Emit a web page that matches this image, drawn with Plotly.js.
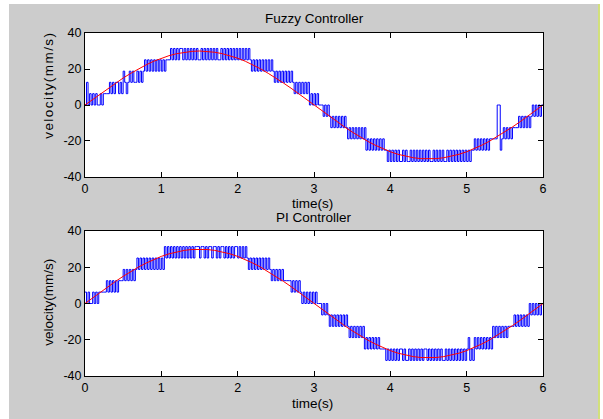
<!DOCTYPE html>
<html>
<head>
<meta charset="utf-8">
<script src="https://cdn.plot.ly/plotly-3.0.1.min.js"></script>
<style>
  html, body { margin: 0; padding: 0; background: #ffffff; width: 603px; height: 419px; overflow: hidden; }
  #plot { position: absolute; left: 9px; top: 4px; width: 589px; height: 415px; }
  #edge { position: absolute; left: 598px; top: 4px; width: 2px; height: 415px; background: #d2e07c; }
  .annotation[data-index="4"] text { letter-spacing: 1.45px; }
</style>
</head>
<body>
<div id="plot"></div>
<div id="edge"></div>
<script>
// sampling interval of the measured velocity (s) and of the reference (s)
const dtMeasured = 0.02;
const dtReference = 0.1;

// reference velocity (red), mm/s, every 0.1 s from 0 to 6 s
const referenceVelocity = [
  0, 3.1, 6.2, 9.3, 12.2, 15, 17.6, 20.1, 22.3, 24.3, 26, 27.4, 28.5, 29.3, 29.8, 30,
  29.8, 29.3, 28.5, 27.4, 26, 24.3, 22.3, 20.1, 17.6, 15, 12.2, 9.3, 6.2, 3.1, 0,
  -3.1, -6.2, -9.3, -12.2, -15, -17.6, -20.1, -22.3, -24.3, -26, -27.4, -28.5, -29.3, -29.8, -30,
  -29.8, -29.3, -28.5, -27.4, -26, -24.3, -22.3, -20.1, -17.6, -15, -12.2, -9.3, -6.2, -3.1, 0
];

// measured velocity, Fuzzy controller (blue), mm/s, every 0.02 s
const fuzzyVelocity = [
  0, 12.6, 0,
  6.3, 0, 6.3, 0, 6.3, 0, 0, 6.3, 0, 6.3,
  6.3, 6.3, 6.3,
  12.6, 6.3, 12.6, 6.3, 12.6, 12.6, 6.3, 12.6, 6.3, 18.8, 12.6, 6.3,
  12.6, 18.8, 12.6, 18.8, 12.6, 12.6, 18.8, 12.6, 18.8, 12.6, 18.8,
  25.1, 18.8, 25.1, 18.8, 25.1, 18.8, 25.1, 18.8, 25.1, 18.8, 25.1, 18.8, 25.1, 18.8,
  25.1, 25.1, 25.1,
  31.4, 25.1, 31.4, 25.1, 31.4, 25.1, 31.4, 31.4, 25.1, 31.4,
  25.1, 31.4, 25.1, 31.4, 25.1, 31.4, 25.1, 31.4, 25.1, 25.1,
  31.4, 25.1, 31.4, 25.1, 31.4, 25.1, 31.4, 25.1, 31.4, 25.1,
  31.4, 25.1, 25.1, 31.4, 25.1, 31.4, 25.1, 31.4, 25.1, 31.4,
  25.1, 31.4, 25.1, 31.4, 25.1, 31.4, 25.1, 31.4, 25.1, 31.4, 25.1, 31.4, 25.1,
  18.8, 25.1, 18.8, 25.1, 18.8, 25.1, 18.8, 25.1, 18.8, 25.1, 18.8, 25.1, 18.8, 25.1, 18.8,
  12.6, 18.8, 12.6, 18.8, 12.6, 18.8, 12.6, 18.8, 12.6, 18.8, 12.6, 18.8, 12.6,
  6.3, 12.6, 6.3, 12.6, 6.3, 12.6, 6.3, 12.6, 6.3, 12.6,
  0, 6.3, 0, 6.3, 0, 6.3,
  0, 0, 0,
  -6.3, 0, -6.3, 0, -6.3,
  -12.6, -6.3, -12.6, -6.3, -12.6, -6.3, -12.6, -6.3, -12.6, -6.3, -12.6,
  -18.8, -12.6, -18.8, -12.6, -18.8, -12.6, -18.8, -12.6, -18.8, -12.6, -18.8, -12.6,
  -25.1, -18.8, -25.1, -18.8, -25.1, -18.8, -25.1, -18.8, -25.1, -18.8, -25.1, -18.8, -25.1,
  -25.1, -31.4, -25.1, -31.4, -25.1, -31.4, -25.1, -31.4, -25.1, -31.4,
  -31.4, -25.1, -31.4, -25.1, -31.4, -31.4, -25.1, -31.4, -25.1, -31.4,
  -25.1, -31.4, -25.1, -31.4, -25.1, -31.4, -25.1, -31.4, -25.1, -31.4,
  -31.4, -25.1, -31.4, -25.1, -31.4, -25.1, -31.4, -25.1, -31.4, -31.4,
  -25.1, -31.4, -25.1, -31.4, -25.1, -31.4, -25.1, -31.4, -25.1, -31.4,
  -25.1, -31.4, -25.1, -31.4, -25.1, -31.4, -25.1, -25.1,
  -18.8, -25.1, -18.8, -25.1, -18.8, -25.1, -18.8, -25.1, -18.8, -25.1, -18.8,
  -18.8, -18.8, -18.8, -18.8,
  0, 0, -25.1, -18.8,
  -12.6, -18.8, -12.6, -18.8, -12.6, -18.8, -12.6,
  -12.6, -12.6, -12.6,
  -6.3, -12.6, -6.3, -12.6, -6.3, -12.6, -6.3, -12.6, -6.3,
  0, -6.3, 0, -6.3, 0, -6.3, 0, 0
];

// measured velocity, PI controller (blue), mm/s, every 0.02 s
const piVelocity = [
  6.3, 0, 6.3, 0, 0, 6.3, 0, 6.3, 0, 6.3,
  6.3, 6.3, 6.3, 6.3,
  12.6, 6.3, 12.6, 6.3, 12.6, 6.3, 12.6, 6.3,
  12.6, 12.6, 12.6,
  18.8, 12.6, 18.8, 12.6, 18.8, 12.6, 18.8, 12.6, 18.8,
  25.1, 18.8, 25.1, 18.8, 25.1, 18.8, 25.1, 18.8, 25.1, 18.8, 25.1, 18.8, 25.1, 18.8, 25.1, 18.8, 25.1,
  18.8, 31.4, 25.1,
  31.4, 25.1, 31.4, 25.1, 31.4, 25.1, 31.4, 25.1, 31.4, 25.1, 31.4, 25.1, 31.4, 25.1, 31.4, 25.1, 31.4, 25.1, 31.4,
  31.4, 31.4, 25.1, 31.4, 31.4, 25.1, 31.4, 25.1, 31.4, 31.4,
  25.1, 31.4, 31.4, 25.1, 31.4, 25.1, 31.4, 31.4, 25.1, 31.4,
  25.1, 31.4, 25.1, 31.4, 25.1, 31.4, 31.4, 25.1, 31.4, 25.1,
  31.4, 25.1, 31.4, 25.1,
  18.8, 25.1, 18.8, 25.1, 18.8, 25.1, 18.8, 25.1, 18.8, 25.1, 18.8, 25.1, 18.8, 25.1, 18.8,
  12.6, 18.8, 12.6, 18.8, 12.6, 18.8, 12.6, 18.8, 12.6,
  12.6, 12.6, 12.6, 12.6,
  6.3, 12.6, 6.3, 12.6, 6.3, 12.6, 6.3,
  0, 6.3, 0, 6.3, 0, 6.3, 0, 6.3, 0, 6.3, 0,
  0, 0, -6.3, 0,
  -6.3, 0, -6.3,
  -12.6, -6.3, -12.6, -6.3, -12.6, -6.3, -12.6, -6.3, -12.6, -6.3, -12.6, -6.3, -12.6,
  -18.8, -12.6, -18.8, -12.6, -18.8, -12.6, -18.8, -12.6, -18.8, -12.6,
  -25.1, -18.8, -25.1, -18.8, -25.1, -18.8, -25.1, -18.8, -25.1, -18.8, -25.1,
  -25.1, -25.1, -25.1,
  -31.4, -25.1, -31.4, -25.1, -31.4, -25.1, -31.4, -25.1, -31.4, -25.1,
  -25.1, -31.4, -25.1, -31.4, -31.4, -25.1, -31.4, -25.1, -31.4, -25.1,
  -31.4, -25.1, -31.4, -25.1, -31.4, -25.1, -25.1, -31.4, -25.1, -31.4,
  -25.1, -31.4, -25.1, -31.4, -25.1, -31.4, -25.1, -31.4, -31.4, -25.1,
  -31.4, -25.1, -31.4, -25.1, -31.4, -25.1, -31.4, -25.1, -31.4, -25.1,
  -31.4, -25.1, -31.4, -25.1,
  -18.8, -31.4, -25.1, -31.4, -18.8, -25.1, -18.8, -25.1, -18.8, -25.1, -18.8, -25.1, -18.8, -25.1, -18.8, -25.1,
  -12.6, -18.8, -12.6, -18.8, -12.6, -18.8, -12.6, -18.8, -12.6, -18.8,
  -12.6, -12.6, -12.6, -12.6,
  -6.3, -12.6, -6.3, -12.6, -6.3, -12.6, -6.3, -12.6, -6.3, -12.6,
  0, -6.3, 0, -6.3, 0, -6.3, 0, -6.3, 0, 0
];

const xTicks = [0, 1, 2, 3, 4, 5, 6];
const yTicks = [-40, -20, 0, 20, 40];
const titleTop = 'Fuzzy Controller';
const titleBottom = 'PI Controller';
const xLabel = 'time(s)';
const yLabel = 'velocity(mm/s)';

// sample times
const tMeasured = fuzzyVelocity.map((_, i) => +(i * dtMeasured).toFixed(2));
const tReference = referenceVelocity.map((_, i) => +(i * dtReference).toFixed(1));

const FONT = 'Liberation Sans, Arial, Helvetica, sans-serif';

const traces = [
  { x: tMeasured, y: fuzzyVelocity, xaxis: 'x', yaxis: 'y', mode: 'lines',
    line: { color: '#0000ff', width: 1, shape: 'hv' }, hoverinfo: 'skip' },
  { x: tReference, y: referenceVelocity, xaxis: 'x', yaxis: 'y', mode: 'lines',
    line: { color: '#ff0000', width: 1 }, hoverinfo: 'skip' },
  { x: tMeasured, y: piVelocity, xaxis: 'x2', yaxis: 'y2', mode: 'lines',
    line: { color: '#0000ff', width: 1, shape: 'hv' }, hoverinfo: 'skip' },
  { x: tReference, y: referenceVelocity, xaxis: 'x2', yaxis: 'y2', mode: 'lines',
    line: { color: '#ff0000', width: 1 }, hoverinfo: 'skip' }
];

function xAxis(anchor) {
  return {
    anchor: anchor, domain: [0, 1], range: [0, 6], tickvals: xTicks, ticktext: xTicks.map(String),
    ticks: 'inside', ticklen: 5, tickwidth: 1, tickcolor: '#000',
    showline: true, linecolor: '#000', linewidth: 1, mirror: 'ticks',
    showgrid: false, zeroline: false,
    tickfont: { family: FONT, size: 12.5, color: '#000' }
  };
}
function yAxis(anchor, domain) {
  return {
    anchor: anchor, domain: domain, range: [-40, 40], tickvals: yTicks, ticktext: yTicks.map(String),
    ticks: 'inside', ticklen: 5, tickwidth: 1, tickcolor: '#000',
    showline: true, linecolor: '#000', linewidth: 1, mirror: 'ticks',
    showgrid: false, zeroline: false,
    tickfont: { family: FONT, size: 12.5, color: '#000' }
  };
}

const tf = { family: FONT, size: 13.5, color: '#000' };
const layout = {
  width: 589, height: 415,
  margin: { l: 76, r: 55, t: 29, b: 43, pad: 0 },
  paper_bgcolor: '#cccccc', plot_bgcolor: '#ffffff',
  showlegend: false,
  xaxis: xAxis('y'),
  yaxis: yAxis('x', [0.5802, 1]),
  xaxis2: xAxis('y2'),
  yaxis2: yAxis('x2', [0, 0.4227]),
  annotations: [
    { text: titleTop, xref: 'paper', yref: 'paper', x: 0.5, y: 1.0437, xanchor: 'center', yanchor: 'middle', showarrow: false, font: tf },
    { text: xLabel, xref: 'paper', yref: 'paper', x: 0.496, y: 0.5040, xanchor: 'center', yanchor: 'middle', showarrow: false, font: tf },
    { text: titleBottom, xref: 'paper', yref: 'paper', x: 0.5, y: 0.4630, xanchor: 'center', yanchor: 'middle', showarrow: false, font: tf },
    { text: xLabel, xref: 'paper', yref: 'paper', x: 0.496, y: -0.0796, xanchor: 'center', yanchor: 'middle', showarrow: false, font: tf },
    { text: yLabel, xref: 'paper', yref: 'paper', x: -0.0797, y: 0.848, xanchor: 'center', yanchor: 'middle', showarrow: false, textangle: -90, font: tf },
    { text: yLabel, xref: 'paper', yref: 'paper', x: -0.0797, y: 0.215, xanchor: 'center', yanchor: 'middle', showarrow: false, textangle: -90, font: tf }
  ]
};

Plotly.newPlot('plot', traces, layout, { staticPlot: true, displayModeBar: false });
</script>
</body>
</html>
